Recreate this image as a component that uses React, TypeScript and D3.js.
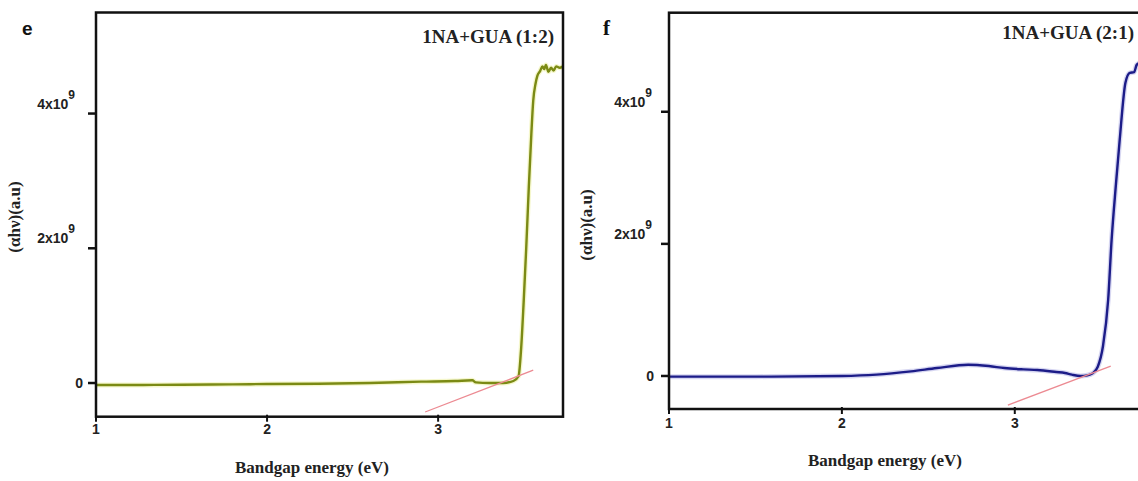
import React from "react";
import * as d3 from "d3";

// ---- data (y in units of 1e9) ----
const xTicks = [1, 2, 3];
const yTicks = [0, 2, 4];
const yTickMantissa = ["0", "2x10", "4x10"];
const yTickExponent = ["", "9", "9"];

const eX = [1.0, 1.2, 1.5, 1.8, 2.0, 2.3, 2.6, 2.9, 3.1, 3.2, 3.22, 3.3, 3.38, 3.44, 3.47, 3.485, 3.5, 3.515, 3.53, 3.545, 3.556, 3.57, 3.58, 3.596, 3.61, 3.62, 3.63, 3.645, 3.66, 3.675, 3.69, 3.71, 3.73];
const eY = [-0.03, -0.03, -0.025, -0.02, -0.015, -0.01, 0.0, 0.02, 0.03, 0.04, 0.01, 0.0, 0.0, 0.03, 0.1, 0.5, 1.2, 2.0, 2.9, 3.7, 4.19, 4.45, 4.56, 4.63, 4.7, 4.66, 4.72, 4.62, 4.68, 4.64, 4.7, 4.68, 4.7];

const fX = [1.0, 1.5, 2.0, 2.2, 2.4, 2.55, 2.73, 2.85, 2.94, 3.05, 3.13, 3.24, 3.29, 3.33, 3.38, 3.42, 3.45, 3.48, 3.51, 3.54, 3.56, 3.585, 3.607, 3.64, 3.665, 3.69, 3.705, 3.73];
const fY = [-0.01, -0.01, 0.0, 0.02, 0.07, 0.12, 0.17, 0.15, 0.12, 0.1, 0.09, 0.06, 0.045, 0.02, 0.0, 0.01, 0.04, 0.14, 0.45, 1.15, 2.06, 2.9, 3.58, 4.44, 4.59, 4.6, 4.71, 4.75];

const eTangentX = [2.924, 3.556];
const eTangentY = [-0.43, 0.19];
const fTangentX = [2.96, 3.555];
const fTangentY = [-0.44, 0.15];

const xDomain = [1, 3.73];
const yDomain = [-0.5, 5.5];

type PanelProps = {
  left: number; right: number; top: number; bottom: number;
  xs: number[]; ys: number[]; tx: number[]; ty: number[];
  color: string; halo: string;
  title: string; titleX: number; titleY: number;
  letter: string; letterX: number; letterY: number; letterFont: string; letterSize: number;
  labelGap: number; expGap: number;
  xLabelX: number; xLabelY: number; yLabelX: number; yLabelY: number;
  xTickBaseline: number;
};

const sans = "'Liberation Sans', Arial, sans-serif";
const serif = "'Liberation Serif', 'Times New Roman', serif";

function Panel(p: PanelProps) {
  const x = d3.scaleLinear().domain(xDomain).range([p.left, p.right]);
  const y = d3.scaleLinear().domain(yDomain).range([p.bottom, p.top]);
  const pts: [number, number][] = p.xs.map((v, i) => [v, p.ys[i]]);
  const line = d3.line<[number, number]>().x(d => x(d[0])).y(d => y(d[1])).curve(d3.curveMonotoneX);
  const tan: [number, number][] = p.tx.map((v, i) => [v, p.ty[i]]);
  const tline = d3.line<[number, number]>().x(d => x(d[0])).y(d => y(d[1]));
  return (
    <g>
      <path d={line(pts) || ""} fill="none" stroke={p.halo} strokeWidth={5} strokeOpacity={0.35} />
      <path d={line(pts) || ""} fill="none" stroke={p.color} strokeWidth={2.4} strokeLinejoin="round" />
      <path d={tline(tan) || ""} fill="none" stroke="#ec8a92" strokeWidth={1.3} />
      <rect x={p.left} y={p.top} width={p.right - p.left} height={p.bottom - p.top} fill="none" stroke="#111" strokeWidth={2.5} />
      {yTicks.map((t, i) => (
        <g key={"y" + t}>
          <line x1={p.left - 8} x2={p.left} y1={y(t)} y2={y(t)} stroke="#111" strokeWidth={2.5} />
          {yTickExponent[i] ? (
            <text x={p.left - p.expGap} y={y(t) - 5} textAnchor="end" fontFamily={sans} fontWeight="bold" fontSize={14} fill="#222">
              {yTickMantissa[i]}
              <tspan dy={-10} fontSize={12}>{yTickExponent[i]}</tspan>
            </text>
          ) : (
            <text x={p.left - p.labelGap} y={y(t) + 5} textAnchor="end" fontFamily={sans} fontWeight="bold" fontSize={14} fill="#222">
              {yTickMantissa[i]}
            </text>
          )}
        </g>
      ))}
      {xTicks.map(t => (
        <g key={"x" + t}>
          <line x1={x(t)} x2={x(t)} y1={p.bottom - 2} y2={p.bottom + 5} stroke="#111" strokeWidth={2} />
          <text x={x(t)} y={p.xTickBaseline} textAnchor="middle" fontFamily={sans} fontWeight="bold" fontSize={14} fill="#222">{t}</text>
        </g>
      ))}
      <text x={p.titleX} y={p.titleY} textAnchor="end" fontFamily={serif} fontWeight="bold" fontSize={19} fill="#222">{p.title}</text>
      <text x={p.letterX} y={p.letterY} fontFamily={p.letterFont} fontWeight="bold" fontSize={p.letterSize} fill="#111">{p.letter}</text>
      <text x={p.xLabelX} y={p.xLabelY} textAnchor="middle" fontFamily={serif} fontWeight="bold" fontSize={17} fill="#222">Bandgap energy (eV)</text>
      <text transform={`translate(${p.yLabelX},${p.yLabelY}) rotate(-90)`} textAnchor="middle" fontFamily={serif} fontWeight="bold" fontSize={17} fill="#222">(αhν)(a.u)</text>
    </g>
  );
}

export default function App() {
  return (
    <svg width={1138} height={481} style={{ position: "absolute", left: 0, top: 0, background: "#fff" }}>
      <rect x={0} y={0} width={1138} height={481} fill="#fff" />
      <Panel left={96} right={563} top={12.5} bottom={416.7} xs={eX} ys={eY} tx={eTangentX} ty={eTangentY}
        color="#7b8a14" halo="#e2e86a" title="1NA+GUA (1:2)" titleX={554} titleY={43}
        letter="e" letterX={22} letterY={35} letterFont={sans} letterSize={19}
        labelGap={13} expGap={21} xLabelX={312} xLabelY={473} yLabelX={20} yLabelY={217} xTickBaseline={434} />
      <Panel left={669} right={1141} top={12.7} bottom={409} xs={fX} ys={fY} tx={fTangentX} ty={fTangentY}
        color="#1c1c88" halo="#8a8ad8" title="1NA+GUA (2:1)" titleX={1134} titleY={39}
        letter="f" letterX={603} letterY={35} letterFont={serif} letterSize={21}
        labelGap={15} expGap={17} xLabelX={885} xLabelY={466} yLabelX={592} yLabelY={225} xTickBaseline={428} />
    </svg>
  );
}
